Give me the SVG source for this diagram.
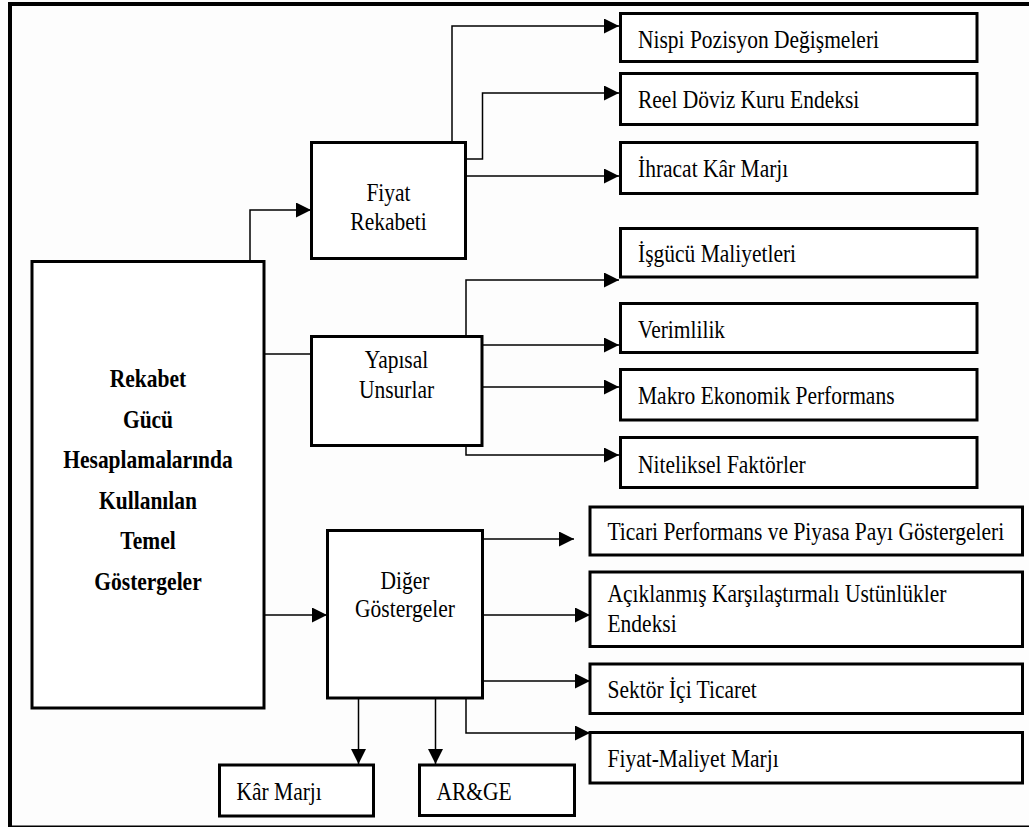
<svg xmlns="http://www.w3.org/2000/svg" width="1029" height="827" viewBox="0 0 1029 827">
<style>
.box{fill:#ffffff;stroke:#000;stroke-width:3}
.t{font-family:"Liberation Serif","Times New Roman",Times,"DejaVu Serif",serif;font-size:21.5px;fill:#000}
.tc{text-anchor:middle}
.b{font-weight:bold}
.c{fill:none;stroke:#000;stroke-width:1.5}
</style>
<defs>
<marker id="ah" markerUnits="userSpaceOnUse" markerWidth="16" markerHeight="16" refX="15" refY="7.5" orient="auto">
<path d="M0,0 L15,7.5 L0,15 Z" fill="#000"/>
</marker>
</defs>
<rect x="0" y="0" width="1029" height="827" fill="#fdfdfd"/>
<g id="frame" fill="none" stroke="#000">
<path d="M10,2 V827" stroke-width="4"/>
<path d="M8,4 H1029" stroke-width="4"/>
<path d="M10,826.3 H1029" stroke-width="1.5"/>
</g>
<g id="connectors">
<path class="c" d="M250,261 V210 H311" marker-end="url(#ah)"/>
<path class="c" d="M452,142 V26 H619" marker-end="url(#ah)"/>
<path class="c" d="M466,159 H482.5 V93 H619" marker-end="url(#ah)"/>
<path class="c" d="M466,176 H619" marker-end="url(#ah)"/>
<path class="c" d="M264,354 H311"/>
<path class="c" d="M466,336 V280 H619" marker-end="url(#ah)"/>
<path class="c" d="M482,345 H619" marker-end="url(#ah)"/>
<path class="c" d="M482,387 H619" marker-end="url(#ah)"/>
<path class="c" d="M466,440 V455 H619" marker-end="url(#ah)"/>
<path class="c" d="M264,615 H327" marker-end="url(#ah)"/>
<path class="c" d="M483,539 H574" marker-end="url(#ah)"/>
<path class="c" d="M483,615 H590" marker-end="url(#ah)"/>
<path class="c" d="M483,681 H590" marker-end="url(#ah)"/>
<path class="c" d="M466,698 V733 H590" marker-end="url(#ah)"/>
<path class="c" d="M358.5,698 V764" marker-end="url(#ah)"/>
<path class="c" d="M435.5,698 V764" marker-end="url(#ah)"/>
</g>
<g id="main">
<rect class="box" x="32" y="261.5" width="232" height="446.5"/>
<text class="t tc b" transform="translate(148,387) scale(1,1.17)">Rekabet</text>
<text class="t tc b" transform="translate(148,427.5) scale(1,1.17)">Gücü</text>
<text class="t tc b" transform="translate(148,468) scale(1,1.17)">Hesaplamalarında</text>
<text class="t tc b" transform="translate(148,508.5) scale(1,1.17)">Kullanılan</text>
<text class="t tc b" transform="translate(148,549) scale(1,1.17)">Temel</text>
<text class="t tc b" transform="translate(148,590) scale(1,1.17)">Göstergeler</text>
</g>
<g id="fiyat-rekabeti">
<rect class="box" x="311.5" y="142.5" width="154" height="116"/>
<text class="t tc" transform="translate(388.5,201) scale(1,1.17)">Fiyat</text>
<text class="t tc" transform="translate(388.5,230) scale(1,1.17)">Rekabeti</text>
</g>
<g id="yapisal-unsurlar">
<rect class="box" x="311.5" y="336.5" width="170.5" height="109"/>
<text class="t tc" transform="translate(396.5,368) scale(1,1.17)">Yapısal</text>
<text class="t tc" transform="translate(396.5,398) scale(1,1.17)">Unsurlar</text>
</g>
<g id="diger-gostergeler">
<rect class="box" x="327.5" y="530.5" width="155" height="167.5"/>
<text class="t tc" transform="translate(405,589) scale(1,1.17)">Diğer</text>
<text class="t tc" transform="translate(405,617) scale(1,1.17)">Göstergeler</text>
</g>
<g id="nispi">
<rect class="box" x="620.5" y="13.5" width="356.5" height="48"/>
<text class="t" transform="translate(638,48) scale(1,1.17)">Nispi Pozisyon Değişmeleri</text>
</g>
<g id="reel">
<rect class="box" x="620.5" y="73.5" width="356.5" height="51"/>
<text class="t" transform="translate(638,108) scale(1,1.17)">Reel Döviz Kuru Endeksi</text>
</g>
<g id="ihracat">
<rect class="box" x="620.5" y="142.5" width="356.5" height="51"/>
<text class="t" transform="translate(638,176.5) scale(1,1.17)">İhracat Kâr Marjı</text>
</g>
<g id="isgucu">
<rect class="box" x="620.5" y="228.5" width="356.5" height="48.5"/>
<text class="t" transform="translate(638,261.5) scale(1,1.17)">İşgücü Maliyetleri</text>
</g>
<g id="verimlilik">
<rect class="box" x="620.5" y="303.5" width="356.5" height="49"/>
<text class="t" transform="translate(638,338) scale(1,1.17)">Verimlilik</text>
</g>
<g id="makro">
<rect class="box" x="620.5" y="369.5" width="356.5" height="50.5"/>
<text class="t" transform="translate(638,404) scale(1,1.17)">Makro Ekonomik Performans</text>
</g>
<g id="niteliksel">
<rect class="box" x="620.5" y="437.5" width="356.5" height="50"/>
<text class="t" transform="translate(638,472.5) scale(1,1.17)">Niteliksel Faktörler</text>
</g>
<g id="ticari">
<rect class="box" x="590" y="507" width="432.5" height="48"/>
<text class="t" transform="translate(607.5,540) scale(1,1.17)">Ticari Performans ve Piyasa Payı Göstergeleri</text>
</g>
<g id="aciklanmis">
<rect class="box" x="590" y="572" width="432.5" height="74.5"/>
<text class="t" transform="translate(607.5,601.5) scale(1,1.17)">Açıklanmış Karşılaştırmalı Ustünlükler</text>
<text class="t" transform="translate(607.5,631.5) scale(1,1.17)">Endeksi</text>
</g>
<g id="sektor">
<rect class="box" x="590" y="664" width="432.5" height="49.5"/>
<text class="t" transform="translate(607.5,698) scale(1,1.17)">Sektör İçi Ticaret</text>
</g>
<g id="fiyat-maliyet">
<rect class="box" x="590" y="732.5" width="432.5" height="50.5"/>
<text class="t" transform="translate(607.5,766.5) scale(1,1.17)">Fiyat-Maliyet Marjı</text>
</g>
<g id="kar-marji">
<rect class="box" x="219.5" y="765" width="154" height="51"/>
<text class="t" transform="translate(236.5,800) scale(1,1.17)">Kâr Marjı</text>
</g>
<g id="arge">
<rect class="box" x="419.5" y="765" width="155" height="50.5"/>
<text class="t" transform="translate(436.5,800) scale(1,1.17)">AR&amp;GE</text>
</g>
</svg>
